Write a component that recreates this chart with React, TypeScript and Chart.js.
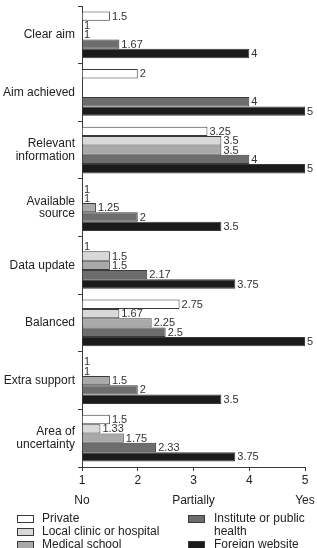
import { useEffect, useRef } from "react";
import { Chart, registerables } from "chart.js";

Chart.register(...registerables);

// Survey criteria (rows) and mean scores per source type
const categories: (string | string[])[] = [
  "Clear aim",
  "Aim achieved",
  ["Relevant", "information"],
  ["Available", "source"],
  "Data update",
  "Balanced",
  "Extra support",
  ["Area of", "uncertainty"],
];

const seriesNames = [
  "Private",
  "Local clinic or hospital",
  "Medical school",
  "Institute or public health",
  "Foreign website",
];

const privateScores = [1.5, 2, 3.25, 1, 1, 2.75, 1, 1.5];
const localClinicScores = [1, null, 3.5, 1, 1.5, 1.67, 1, 1.33];
const medicalSchoolScores = [1, null, 3.5, 1.25, 1.5, 2.25, 1.5, 1.75];
const instituteScores = [1.67, 4, 4, 2, 2.17, 2.5, 2, 2.33];
const foreignScores = [4, 5, 5, 3.5, 3.75, 5, 3.5, 3.75];

const scaleTicks = [1, 2, 3, 4, 5];
const answerTicks = [1, 3, 5];
const answerNames = ["No", "Partially", "Yes"];

const fills = ["#ffffff", "#d9d9d9", "#a9a9a9", "#6d6d6d", "#1b1b1b"];
const FONT = "'Liberation Sans', Arial, Helvetica, sans-serif";
const INK = "#222222";
const LINE = "#3a3a3a";

// Value labels at the end of each bar
const valueLabels = {
  id: "valueLabels",
  afterDatasetsDraw(chart: any) {
    const ctx = chart.ctx;
    ctx.save();
    ctx.font = `11px ${FONT}`;
    ctx.fillStyle = "#333333";
    ctx.textAlign = "left";
    ctx.textBaseline = "middle";
    chart.data.datasets.forEach((ds: any, i: number) => {
      const meta = chart.getDatasetMeta(i);
      meta.data.forEach((bar: any, j: number) => {
        const v = ds.data[j];
        if (v === null || v === undefined) return;
        ctx.fillText(String(v), bar.x + 2, bar.y + 0.5);
      });
    });
    ctx.restore();
  },
};

// Two-column legend under the axis
const sideLegend = {
  id: "sideLegend",
  afterDraw(chart: any) {
    const ctx = chart.ctx;
    const rowH = 13;
    const top = 519;
    const cols = [
      { swatchX: 17, textX: 42, maxW: 140, items: [0, 1, 2] },
      { swatchX: 188, textX: 214, maxW: chart.width - 214 - 2, items: [3, 4] },
    ];
    ctx.save();
    ctx.font = `12px ${FONT}`;
    ctx.textAlign = "left";
    ctx.textBaseline = "middle";
    cols.forEach((col) => {
      let row = 0;
      col.items.forEach((idx) => {
        const ds = chart.data.datasets[idx];
        const y = top + row * rowH;
        ctx.fillStyle = ds.backgroundColor;
        ctx.fillRect(col.swatchX, y - 4, 17, 8);
        ctx.strokeStyle = LINE;
        ctx.lineWidth = 1;
        ctx.strokeRect(col.swatchX + 0.5, y - 3.5, 16, 7);
        // word-wrap the label within its column
        const words = String(ds.label).split(" ");
        const lines: string[] = [];
        let cur = "";
        words.forEach((w) => {
          const test = cur ? cur + " " + w : w;
          if (cur && ctx.measureText(test).width > col.maxW) {
            lines.push(cur);
            cur = w;
          } else {
            cur = test;
          }
        });
        if (cur) lines.push(cur);
        ctx.fillStyle = INK;
        lines.forEach((ln, k) => ctx.fillText(ln, col.textX, y + k * rowH));
        row += lines.length;
      });
    });
    ctx.restore();
  },
};

export default function App() {
  const canvasRef = useRef<HTMLCanvasElement | null>(null);

  useEffect(() => {
    if (!canvasRef.current) return;
    const seriesData = [
      privateScores,
      localClinicScores,
      medicalSchoolScores,
      instituteScores,
      foreignScores,
    ];
    const chart = new Chart(canvasRef.current, {
      type: "bar",
      data: {
        labels: categories as any,
        datasets: seriesData.map((d, i) => ({
          label: seriesNames[i],
          data: d as any,
          base: 1,
          backgroundColor: fills[i],
          borderColor: LINE,
          borderWidth: 1,
          barPercentage: 1,
          categoryPercentage: 0.81,
          clip: 3,
        })),
      },
      options: {
        indexAxis: "y",
        animation: false,
        responsive: false,
        maintainAspectRatio: false,
        layout: { padding: { left: 0, right: 12, top: 6, bottom: 36 } },
        plugins: {
          legend: { display: false },
          tooltip: { enabled: false },
        },
        scales: {
          x: {
            type: "linear",
            min: 1,
            max: 5,
            afterBuildTicks: (s: any) => {
              s.ticks = scaleTicks.map((v) => ({ value: v }));
            },
            afterFit: (s: any) => {
              s.height = 45;
            },
            ticks: {
              padding: 0,
              color: INK,
              font: { family: FONT, size: 12, lineHeight: 20 / 12 },
              callback: (v: any) => {
                const k = answerTicks.indexOf(Number(v));
                return k >= 0 ? [String(v), answerNames[k]] : String(v);
              },
            },
            grid: {
              drawOnChartArea: false,
              drawTicks: true,
              tickLength: 4,
              color: LINE,
            },
            border: { display: true, color: LINE, width: 1 },
          },
          y: {
            type: "category",
            afterFit: (s: any) => {
              s.width = 82;
              s.paddingTop = 0;
              s.paddingBottom = 0;
            },
            ticks: {
              padding: 3,
              color: INK,
              font: { family: FONT, size: 12, lineHeight: 1.05 },
            },
            grid: {
              offset: true,
              drawOnChartArea: false,
              drawTicks: true,
              tickLength: 4,
              color: LINE,
            },
            border: { display: true, color: LINE, width: 1 },
          },
        },
      },
      plugins: [valueLabels, sideLegend],
    });
    return () => chart.destroy();
  }, []);

  return (
    <div
      style={{
        position: "fixed",
        left: 0,
        top: 0,
        width: 317,
        height: 548,
        background: "#ffffff",
        overflow: "hidden",
      }}
    >
      <canvas ref={canvasRef} width={317} height={548} style={{ display: "block" }} />
    </div>
  );
}
